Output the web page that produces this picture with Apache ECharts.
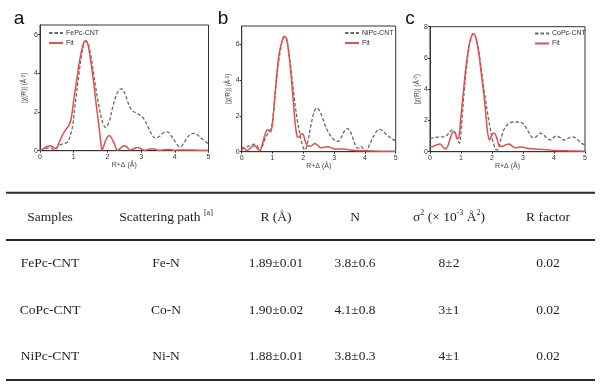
<!DOCTYPE html>
<html><head><meta charset="utf-8">
<script src="https://cdn.jsdelivr.net/npm/echarts/dist/echarts.min.js"></script>
<style>html,body{margin:0;padding:0;background:#fff}#c{width:600px;height:387px}</style>
</head><body><div id="c"></div>
<script>
// ---------- chart data ----------
const panelLabels = ['a', 'b', 'c'];
const expNames = ['FePc-CNT', 'NiPc-CNT', 'CoPc-CNT'];
const fitName = 'Fit';
const yMaxes = [6.5, 7, 8];
const yTickStep = 2;
const xTickStep = 1;

// panel a (FePc-CNT)
const rExpA = [0,0.15,0.3,0.42,0.5,0.6,0.72,0.82,0.9,0.97,1.05,1.15,1.25,1.35,1.42,1.5,1.58,1.66,1.75,1.85,1.95,2.05,2.15,2.25,2.35,2.43,2.52,2.62,2.72,2.85,3.0,3.1,3.2,3.3,3.42,3.55,3.68,3.78,3.88,4.0,4.1,4.17,4.27,4.38,4.5,4.6,4.72,4.85,5.0];
const expA = [0.02,0.1,0.15,0.05,0.15,0.3,0.38,0.45,0.8,1.3,2.5,3.9,5.1,5.65,5.55,5.0,4.1,3.2,2.3,1.5,1.2,1.5,2.2,2.8,3.15,3.2,2.95,2.45,2.1,1.95,1.8,1.6,1.25,0.9,0.65,0.75,0.95,0.97,0.8,0.5,0.25,0.2,0.4,0.7,0.88,0.9,0.75,0.55,0.35];
const rFitA = [0,0.1,0.2,0.3,0.38,0.47,0.55,0.65,0.75,0.85,0.92,1.0,1.1,1.2,1.3,1.36,1.42,1.5,1.58,1.66,1.74,1.8,1.84,1.9,1.98,2.06,2.14,2.22,2.3,2.4,2.5,2.58,2.66,2.78,2.9,3.0,3.1,3.2,3.33,3.45,3.55,3.7,3.85,4.0,4.2,4.5,5.0];
const fitA = [0,0.1,0.22,0.26,0.2,0.1,0.35,0.75,1.05,1.3,1.6,2.6,3.8,4.9,5.6,5.68,5.5,4.7,3.7,2.5,1.4,0.5,0.02,0.3,0.65,0.78,0.6,0.3,0.02,0.15,0.26,0.2,0.03,0.1,0.16,0.1,0.02,0.06,0.1,0.05,0.02,0.05,0.06,0.02,0.04,0.03,0.01];

// panel b (NiPc-CNT)
const rExpB = [0,0.1,0.2,0.3,0.4,0.5,0.58,0.68,0.78,0.88,0.97,1.05,1.15,1.25,1.35,1.42,1.5,1.6,1.7,1.8,1.9,1.98,2.05,2.15,2.25,2.35,2.43,2.52,2.62,2.75,2.9,3.05,3.13,3.25,3.35,3.43,3.52,3.62,3.72,3.8,3.87,3.95,4.05,4.15,4.28,4.4,4.48,4.58,4.7,4.85,5.0];
const expB = [0.15,0.2,0.3,0.35,0.42,0.35,0.05,0.35,0.8,1.1,1.4,2.5,4.3,5.6,6.35,6.4,5.9,4.6,3.1,1.8,0.9,0.3,0.1,0.6,1.5,2.2,2.43,2.3,1.9,1.3,0.85,0.6,0.58,0.85,1.2,1.28,1.15,0.7,0.25,0.2,0.3,0.15,0.05,0.4,0.85,1.18,1.24,1.15,0.95,0.75,0.6];
const rFitB = [0,0.08,0.16,0.25,0.35,0.42,0.5,0.58,0.65,0.73,0.8,0.86,0.93,1.0,1.08,1.15,1.22,1.3,1.38,1.45,1.52,1.6,1.67,1.74,1.8,1.86,1.94,2.0,2.08,2.18,2.28,2.37,2.47,2.57,2.68,2.8,2.95,3.1,3.3,3.5,3.7,4.0,4.5,5.0];
const fitB = [0.25,0.2,0.06,0.15,0.3,0.33,0.2,0.05,0.3,0.8,1.15,1.22,1.1,1.6,3.2,4.5,5.5,6.1,6.43,6.3,5.6,4.3,2.9,1.5,0.85,0.8,1.0,0.95,0.5,0.3,0.35,0.45,0.35,0.22,0.25,0.28,0.18,0.15,0.15,0.1,0.07,0.05,0.03,0.02];

// panel c (CoPc-CNT)
const rExpC = [0,0.15,0.3,0.45,0.55,0.65,0.72,0.8,0.88,0.95,1.02,1.1,1.2,1.3,1.4,1.48,1.56,1.64,1.72,1.8,1.88,1.96,2.04,2.12,2.18,2.26,2.36,2.46,2.58,2.7,2.85,2.97,3.08,3.2,3.32,3.42,3.55,3.65,3.78,3.88,3.98,4.08,4.2,4.32,4.45,4.58,4.68,4.8,4.92,5.0];
const expC = [0.85,0.9,0.95,0.95,1.05,1.3,1.4,1.25,0.8,0.55,1.8,3.8,5.8,7.1,7.55,7.3,6.6,5.5,4.3,3.2,2.2,1.3,0.6,0.15,0.12,0.6,1.3,1.65,1.85,1.9,1.9,1.85,1.6,1.2,0.9,0.95,1.18,1.1,0.85,0.75,0.9,1.0,0.9,0.75,0.85,0.95,0.9,0.7,0.5,0.45];
const rFitC = [0,0.12,0.22,0.32,0.42,0.5,0.58,0.66,0.75,0.82,0.88,0.93,1.0,1.08,1.17,1.27,1.36,1.42,1.5,1.58,1.66,1.74,1.8,1.86,1.92,2.0,2.07,2.15,2.25,2.35,2.45,2.55,2.65,2.75,2.9,3.0,3.2,3.5,3.8,4.0,4.5,5.0];
const fitC = [0.3,0.35,0.45,0.5,0.3,0.17,0.4,0.9,1.3,1.15,0.85,0.9,2.3,3.9,5.6,6.9,7.5,7.55,7.1,6.2,4.9,3.6,2.4,1.2,0.75,1.1,1.2,0.9,0.35,0.35,0.45,0.5,0.35,0.25,0.3,0.28,0.2,0.15,0.12,0.08,0.05,0.03];

// ---------- table data ----------
const tableHeaders = ['Samples', 'Scattering path ', 'R (Å)', 'N', 'σ', 'R factor'];
const tableSamples = ['FePc-CNT', 'CoPc-CNT', 'NiPc-CNT'];
const tablePaths = ['Fe-N', 'Co-N', 'Ni-N'];
const tableR = ['1.89±0.01', '1.90±0.02', '1.88±0.01'];
const tableN = ['3.8±0.6', '4.1±0.8', '3.8±0.3'];
const tableSigma = ['8±2', '3±1', '4±1'];
const tableRFactor = ['0.02', '0.02', '0.02'];

// ---------- layout ----------
const grids = [
  {left: 40, top: 25, width: 168.5, height: 125.7},
  {left: 241.7, top: 26, width: 154, height: 125.7},
  {left: 430, top: 26.7, width: 155, height: 125}
];
const yNameGaps = [12, 9, 6];
const legendPos = [
  {left: 48, top: 29},
  {left: 344, top: 29},
  {left: 534, top: 29.5}
];
const letterPos = [[19, 18.5], [223, 18.5], [410, 18.5]];
const EXP_COLOR = '#6a6a6a';
const FIT_COLOR = '#e0504e';

function zip(xs, ys) { return xs.map((x, i) => [x, ys[i]]); }
const expData = [zip(rExpA, expA), zip(rExpB, expB), zip(rExpC, expC)];
const fitData = [zip(rFitA, fitA), zip(rFitB, fitB), zip(rFitC, fitC)];

const xAxes = [], yAxes = [], series = [], legends = [];
grids.forEach((g, i) => {
  xAxes.push({
    type: 'value', gridIndex: i, min: 0, max: 5, interval: xTickStep,
    name: 'R+Δ (Å)', nameLocation: 'middle', nameGap: 10,
    nameTextStyle: {fontSize: 7, color: '#444', fontFamily: 'Liberation Sans'},
    axisLine: {show: true, onZero: false, lineStyle: {color: '#333', width: 1}},
    axisTick: {show: true, length: 2, lineStyle: {color: '#333'}},
    axisLabel: {fontSize: 7, color: '#333', margin: 3, fontFamily: 'Liberation Sans'},
    splitLine: {show: false}
  });
  yAxes.push({
    type: 'value', gridIndex: i, min: 0, max: yMaxes[i], interval: yTickStep,
    name: '|χ(R)| (Å{s|-3})', nameLocation: 'middle', nameGap: yNameGaps[i],
    nameTextStyle: {fontSize: 6.5, color: '#444', fontFamily: 'Liberation Sans',
      rich: {s: {fontSize: 4.5, verticalAlign: 'top', color: '#444', fontFamily: 'Liberation Sans'}}},
    axisLine: {show: true, onZero: false, lineStyle: {color: '#333', width: 1}},
    axisTick: {show: true, length: 2, lineStyle: {color: '#333'}},
    axisLabel: {fontSize: 7, color: '#333', margin: 2, fontFamily: 'Liberation Sans',
      showMaxLabel: yMaxes[i] % yTickStep === 0},
    splitLine: {show: false}
  });
  series.push({
    name: expNames[i], type: 'line', xAxisIndex: i, yAxisIndex: i,
    data: expData[i], symbol: 'none', smooth: 0.35, z: 2,
    lineStyle: {color: EXP_COLOR, width: 1.3, type: [3.5, 2]},
    itemStyle: {color: EXP_COLOR}
  });
  series.push({
    name: fitName, type: 'line', xAxisIndex: i, yAxisIndex: i,
    data: fitData[i], symbol: 'none', smooth: 0.35, z: 3,
    lineStyle: {color: FIT_COLOR, width: 1.5},
    itemStyle: {color: FIT_COLOR}
  });
  legends.push(Object.assign({
    orient: 'vertical', data: [expNames[i], fitName],
    itemWidth: 14, itemHeight: 6, itemGap: 2, padding: 0, selectedMode: false,
    itemStyle: {opacity: 0},
    textStyle: {fontSize: 7, color: '#333', lineHeight: 8, fontFamily: 'Liberation Sans', padding: [0, 0, 0, -2]}
  }, legendPos[i]));
});

// ---------- table as graphic ----------
const colX = [50, 166, 276, 355, 449, 548];
const headerY = 217.3;
const rowY = [263.3, 310, 356.7];
const lineYs = [192.7, 240, 380];
const serif = 'Liberation Serif';
const cellStyle = (text, x, y) => ({
  type: 'text', style: {text, x, y, fontSize: 13.5, fontFamily: serif, fill: '#1e1e1e', align: 'center', verticalAlign: 'middle'}
});
const graphics = [];
panelLabels.forEach((t, i) => {
  graphics.push({type: 'text', style: {text: t, x: letterPos[i][0], y: letterPos[i][1], fontSize: 19, fontFamily: 'Liberation Sans', fill: '#111', align: 'center', verticalAlign: 'middle'}});
});
lineYs.forEach((y) => {
  graphics.push({type: 'line', shape: {x1: 6, y1: y, x2: 595, y2: y}, style: {stroke: '#2a2a2a', lineWidth: 2}});
});
const supRich = {
  n: {fontSize: 13.5, fontFamily: serif, fill: '#1e1e1e', lineHeight: 16},
  s: {fontSize: 8, fontFamily: serif, fill: '#1e1e1e', lineHeight: 9, verticalAlign: 'top'}
};
tableHeaders.forEach((h, i) => {
  let txt = h;
  if (i === 1) txt = '{n|' + h + '}{s|[a]}';
  else if (i === 4) txt = '{n|' + h + '}{s|2}{n| (× 10}{s|-3}{n| Å}{s|2}{n|)}';
  if (i === 1 || i === 4) {
    graphics.push({type: 'text', style: {text: txt, rich: supRich, x: colX[i], y: headerY, align: 'center', verticalAlign: 'middle', fontSize: 13.5, fontFamily: serif, fill: '#1e1e1e'}});
  } else {
    graphics.push(cellStyle(txt, colX[i], headerY));
  }
});
const cols = [tableSamples, tablePaths, tableR, tableN, tableSigma, tableRFactor];
rowY.forEach((y, r) => {
  cols.forEach((col, c) => graphics.push(cellStyle(col[r], colX[c], y)));
});

const chart = echarts.init(document.getElementById('c'), null, {renderer: 'canvas'});
chart.setOption({
  animation: false,
  backgroundColor: '#fff',
  grid: grids.map(g => Object.assign({show: true, borderColor: '#333', borderWidth: 1, backgroundColor: 'transparent', containLabel: false}, g)),
  xAxis: xAxes,
  yAxis: yAxes,
  legend: legends,
  series: series,
  graphic: graphics
});
</script>
</body></html>
